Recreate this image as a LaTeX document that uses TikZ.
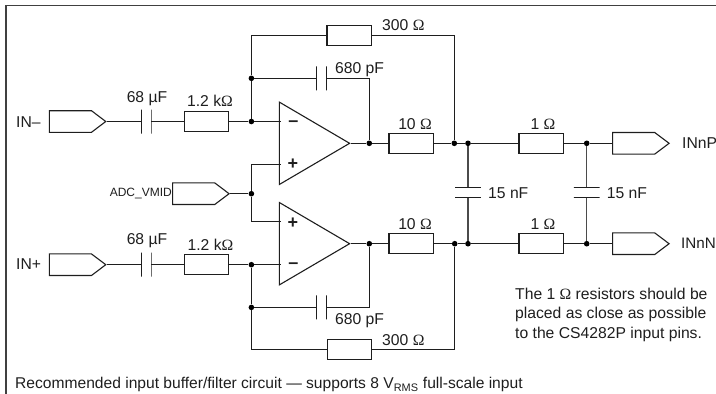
\documentclass[tikz,border=0pt]{standalone}
\usepackage{fontspec}
\setmainfont{Liberation Sans}
\newfontfamily\ohmfont{Liberation Serif}
\newcommand{\ohm}{{\ohmfont Ω}}
\usetikzlibrary{shapes.geometric}
\usetikzlibrary{shapes.symbols}
\definecolor{wirek}{HTML}{1E1E1E}
\tikzset{
    myres/.style = {rectangle, draw=wirek, line width=1.1pt, minimum width=44.4pt, minimum height=20pt, inner sep=0pt},
    myplatev/.style = {rectangle, draw=wirek, line width=0.9pt, minimum width=0pt, minimum height=24pt, inner sep=0pt},
    myplateh/.style = {rectangle, draw=wirek, line width=0.9pt, minimum width=25.6pt, minimum height=0pt, inner sep=0pt},
    myport/.style = {signal, signal to=east, signal pointer angle=74, draw=wirek, line width=1.1pt, minimum width=56.4pt, minimum height=21.6pt, inner sep=0pt, anchor=east},
    myamp/.style = {isosceles triangle, isosceles triangle apex angle=60.8, isosceles triangle stretches, draw=wirek, line width=1.1pt, minimum width=82.3pt, minimum height=70.2pt, inner sep=0pt, anchor=apex},
    mydot/.style = {circle, fill=black, minimum size=5.6pt, inner sep=0pt},
    mytext/.style = {font=\fontsize{15.7}{18}\selectfont, text=wirek, inner sep=0pt},
    mysign/.style = {font=\fontsize{18}{18}\selectfont\bfseries, text=wirek, inner sep=0pt},
    wiren/.style = {-,line width=1.1pt,wirek},
    wireg/.style = {-,line width=1.3pt,wirek!80},
    framen/.style = {-,line width=1.5pt,wirek!85}
}
\begin{document}
\begin{tikzpicture}[x=1pt,y=1pt]
\useasboundingbox (0,0) rectangle (716,-394);
\draw[framen] (716,-5.5) -- (6,-5.5) -- (6,-394);
%
\node[myport] at (106.7,-121.5) (pinm) {};
\node[myplatev] at (141.5,-121.5) (c1a) {};
\node[myplatev] at (151,-121.5) (c1b) {};
\node[myres] at (206.4,-121.5) (r1) {};
\node[mydot] at (251.4,-121.5) (j1) {};
\node[mydot] at (251.4,-78.3) (j2) {};
\node[myplatev] at (316.5,-78.3) (c2a) {};
\node[myplatev] at (326.5,-78.3) (c2b) {};
\node[myres] at (349.2,-35.3) (r2) {};
\node[myamp] at (350.7,-143.3) (ua) {};
\coordinate (uam) at (280.5,-121.5);
\coordinate (uap) at (280.5,-164.7);
\coordinate (ca) at (251.4,-35.3);
\node[mydot] at (369.3,-143.3) (j3) {};
\node[myres] at (411.2,-143.3) (r3) {};
\node[mydot] at (454.3,-143.3) (j4) {};
\node[mydot] at (468,-143.3) (j5) {};
\node[myres] at (541.2,-143.3) (r4) {};
\node[mydot] at (586.7,-143.3) (j6) {};
\node[myport] at (670,-143.3) (pp) {};
%
\draw[wiren] (pinm.east) edge (c1a);
\draw[wiren] (c1b) edge (r1);
\draw[wiren] (r1) edge (j1);
\draw[wiren] (j1) edge (uam);
\draw[wiren] (j1) edge (j2);
\draw[wiren] (j2) edge (c2a);
\draw[wiren] (j2) -- (ca) -- (r2);
\draw[wiren] (c2b) -| (j3);
\draw[wiren] (r2) -| (j4);
\draw[wiren] (ua.apex) edge (j3);
\draw[wiren] (j3) edge (r3);
\draw[wiren] (r3) edge (j4);
\draw[wiren] (j4) edge (j5);
\draw[wiren] (j5) edge (r4);
\draw[wiren] (r4) edge (j6);
\draw[wiren] (j6) edge (pp.west);
%
\node[myport] at (230,-193.7) (pvm) {};
\node[mydot] at (251.4,-193.7) (j7) {};
\draw[wiren] (pvm.east) edge (j7);
\draw[wiren] (j7) |- (uap);
%
\node[myport] at (106.7,-264.7) (pinp) {};
\node[myplatev] at (141.5,-264.7) (c3a) {};
\node[myplatev] at (151,-264.7) (c3b) {};
\node[myres] at (206.4,-264.7) (r5) {};
\node[mydot] at (251.4,-264.7) (j8) {};
\node[mydot] at (251.4,-307.4) (j9) {};
\node[myplatev] at (316.5,-307.4) (c4a) {};
\node[myplatev] at (326.5,-307.4) (c4b) {};
\node[myres] at (349.5,-349.5) (r6) {};
\node[myamp] at (350.7,-243.7) (ub) {};
\coordinate (ubp) at (280.5,-221.4);
\coordinate (ubm) at (280.5,-264.7);
\coordinate (cb) at (251.4,-349.5);
\node[mydot] at (369.3,-243.7) (j10) {};
\node[myres] at (411.2,-243.7) (r7) {};
\node[mydot] at (454.7,-243.7) (j11) {};
\node[mydot] at (468,-243.7) (j12) {};
\node[myres] at (541.2,-243.7) (r8) {};
\node[mydot] at (586.7,-243.7) (j13) {};
\node[myport] at (670,-243.7) (pn) {};
%
\draw[wiren] (pinp.east) edge (c3a);
\draw[wiren] (c3b) edge (r5);
\draw[wiren] (r5) edge (j8);
\draw[wiren] (j8) edge (ubm);
\draw[wiren] (j8) edge (j9);
\draw[wiren] (j9) edge (c4a);
\draw[wiren] (j9) -- (cb) -- (r6);
\draw[wiren] (c4b) -| (j10);
\draw[wiren] (r6) -| (j11);
\draw[wiren] (j7) |- (ubp);
\draw[wiren] (ub.apex) edge (j10);
\draw[wiren] (j10) edge (r7);
\draw[wiren] (r7) edge (j11);
\draw[wiren] (j11) edge (j12);
\draw[wiren] (j12) edge (r8);
\draw[wiren] (r8) edge (j13);
\draw[wiren] (j13) edge (pn.west);
%
\node[myplateh] at (468,-187.3) (c5a) {};
\node[myplateh] at (468,-197.7) (c5b) {};
\node[myplateh] at (586.7,-187.3) (c6a) {};
\node[myplateh] at (586.7,-197.7) (c6b) {};
\draw[wireg] (j5) edge (c5a);
\draw[wireg] (c5b) edge (j12);
\draw[wireg] (j6) edge (c6a);
\draw[wireg] (c6b) edge (j13);
%
\node[mysign] at (293.5,-124) (uamt) {–};
\node[mysign] at (293,-164) (uapt) {+};
\node[mysign] at (293,-223.5) (ubpt) {+};
\node[mysign] at (293.5,-265.5) (ubmt) {–};
%
\node[mytext,anchor=west] at (16,-122.5) (tinm) {IN–};
\node[mytext,anchor=west] at (16,-264) (tinp) {IN+};
\node[mytext,anchor=east,font=\fontsize{12}{14}\selectfont] at (172,-193.7) (tvm) {ADC\_VMID};
\node[mytext,anchor=west] at (682,-143.3) (tpp) {INnP};
\node[mytext,anchor=west,font=\fontsize{15.2}{18}\selectfont] at (681,-243.7) (tpn) {INnN};
\node[mytext] at (147,-99) (t1) {68 µF};
\node[mytext] at (210,-101) (t2) {1.2 k\ohm};
\node[mytext,anchor=west] at (335,-69.8) (t3) {680 pF};
\node[mytext,anchor=west] at (382,-25) (t4) {300 \ohm};
\node[mytext] at (415,-124) (t5) {10 \ohm};
\node[mytext] at (543,-124) (t6) {1 \ohm};
\node[mytext,anchor=west] at (488,-193.3) (t7) {15 nF};
\node[mytext,anchor=west] at (606.7,-193.3) (t8) {15 nF};
\node[mytext] at (147,-240.5) (t9) {68 µF};
\node[mytext] at (210.5,-244.7) (t10) {1.2 k\ohm};
\node[mytext,anchor=west] at (335,-321) (t11) {680 pF};
\node[mytext,anchor=west] at (382,-339.7) (t12) {300 \ohm};
\node[mytext] at (415,-224) (t13) {10 \ohm};
\node[mytext] at (543,-224) (t14) {1 \ohm};
\node[mytext,anchor=north west,align=left,font=\fontsize{15.7}{19.5}\selectfont] at (515,-287.5) (tnote) {The 1 \ohm\ resistors should be\\placed as close as possible\\to the CS4282P input pins.};
\node[mytext,anchor=west,font=\fontsize{15.6}{18}\selectfont] at (15,-384.7) (tcap) {Recommended input buffer/filter circuit — supports 8 V\textsubscript{RMS} full-scale input};
\end{tikzpicture}
\end{document}
